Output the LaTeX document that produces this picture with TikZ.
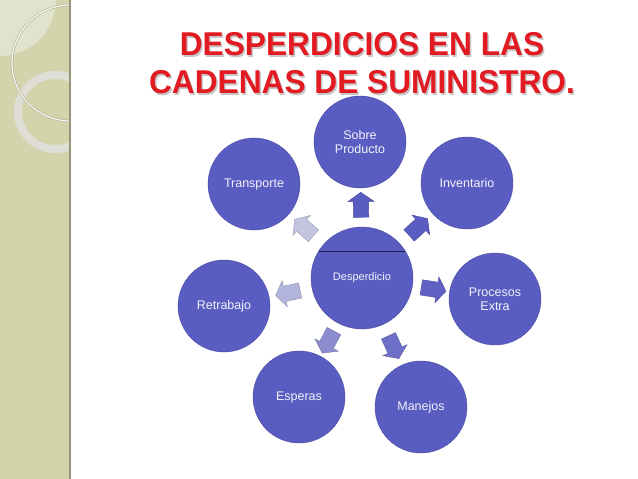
\documentclass[tikz,border=0pt]{standalone}
\usepackage{fontspec}
\setmainfont{Liberation Sans}
\usetikzlibrary{shapes.arrows,calc}
\definecolor{wasteblue}{RGB}{89,92,192}
\definecolor{arrowgray}{RGB}{222,222,232}
\definecolor{titlered}{RGB}{226,26,34}
\definecolor{panel}{RGB}{211,212,172}
\definecolor{paledeco}{RGB}{226,227,204}
\definecolor{ringgray}{RGB}{222,222,214}
\tikzset{
  waste/.style={circle, fill=wasteblue, draw=wasteblue!85!black, line width=0.4pt,
    minimum size=92pt, inner sep=0pt, text=white!92!wasteblue, align=center,
    font=\fontsize{12.5}{14}\selectfont},
  wastearrow/.style={single arrow, minimum height=25pt, inner sep=7.5pt,
    single arrow head extend=5.5pt, single arrow tip angle=110, line width=0.4pt,
    sloped, allow upside down}
}
\begin{document}
\begin{tikzpicture}[x=1pt,y=-1pt]
  \useasboundingbox (0,0) rectangle (638,479);
  \fill[white] (0,0) rectangle (638,479);
  \fill[panel] (0,0) rectangle (70,479);
  \begin{scope}
    \clip (0,0) rectangle (70,479);
    \fill[paledeco] (0,0) -- (56,0) arc[start angle=0, end angle=90, radius=56] -- cycle;
    \draw[ringgray, line width=8pt] (55,112) circle[radius=37];
    \draw[panel!60!gray, line width=2.5pt] (70,63) circle[radius=58];
    \draw[white!85!panel, line width=1.2pt] (70,63) circle[radius=58];
  \end{scope}
  \draw[panel!70!black, line width=1.5pt] (70,0) -- (70,479);

  \node[font=\bfseries\fontsize{33}{38}\selectfont, text=gray!45, align=center,
    xscale=0.96, inner sep=0pt, anchor=north] at (363.5,34) {DESPERDICIOS EN LAS\\CADENAS DE SUMINISTRO.};
  \node[font=\bfseries\fontsize{33}{38}\selectfont, text=titlered, align=center,
    xscale=0.96, inner sep=0pt, anchor=north] (title) at (362,32.5) {DESPERDICIOS EN LAS\\CADENAS DE SUMINISTRO.};

  \node[waste, minimum size=102pt, font=\fontsize{11}{13}\selectfont] (des) at (362,278) {Desperdicio};
  \draw[wasteblue!35!black, line width=0.8pt] ($(des)+(-43,-27)$) -- ($(des)+(43,-27)$);
  \node[waste] (sob) at (360,142) {Sobre\\Producto};
  \node[waste] (inv) at (467,183) {Inventario};
  \node[waste] (pro) at (495,299) {Procesos\\Extra};
  \node[waste] (man) at (421,407) {Manejos};
  \node[waste] (esp) at (299,397) {Esperas};
  \node[waste] (ret) at (224,306) {Retrabajo};
  \node[waste] (tra) at (254,184) {Transporte};

  \foreach \n/\c in {sob/100, inv/100, pro/96, man/85, esp/62, ret/32, tra/20}
    \path (des) -- node[wastearrow, fill=wasteblue!\c!arrowgray,
      draw=wasteblue!\c!arrowgray!80!black] (a\n) {} (\n);
\end{tikzpicture}
\end{document}
